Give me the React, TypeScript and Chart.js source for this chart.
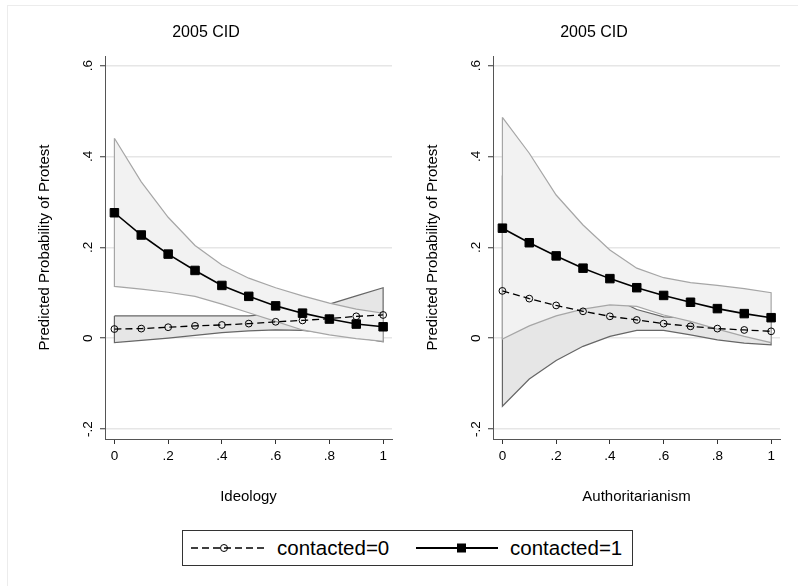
import React, { useEffect, useRef } from "react";
import { Chart, registerables } from "chart.js";

Chart.register(...registerables);

const FONT = "'Liberation Sans', Arial, Helvetica, sans-serif";

// Shared axis definitions
const xValues = [0, 0.1, 0.2, 0.3, 0.4, 0.5, 0.6, 0.7, 0.8, 0.9, 1];
const xTicks = [0, 0.2, 0.4, 0.6, 0.8, 1];
const xTickLabels = ["0", ".2", ".4", ".6", ".8", "1"];
const yTicks = [-0.2, 0, 0.2, 0.4, 0.6];
const yTickLabels = ["-.2", "0", ".2", ".4", ".6"];
const yTitle = "Predicted Probability of Protest";
const panelTitle = "2005 CID";
const legendLabels = ["contacted=0", "contacted=1"];

// Panel 1: Ideology
const ideologyC0 = [0.02, 0.021, 0.024, 0.027, 0.029, 0.032, 0.036, 0.039, 0.043, 0.048, 0.051];
const ideologyC0Upper = [0.049, 0.049, 0.049, 0.049, 0.049, 0.049, 0.054, 0.061, 0.075, 0.093, 0.111];
const ideologyC0Lower = [-0.01, -0.005, 0.0, 0.006, 0.012, 0.016, 0.018, 0.017, 0.011, 0.002, -0.008];
const ideologyC1 = [0.276, 0.227, 0.185, 0.149, 0.116, 0.092, 0.071, 0.055, 0.042, 0.031, 0.025];
const ideologyC1Upper = [0.44, 0.344, 0.266, 0.204, 0.161, 0.132, 0.111, 0.093, 0.077, 0.064, 0.055];
const ideologyC1Lower = [0.114, 0.108, 0.101, 0.092, 0.075, 0.056, 0.037, 0.018, 0.007, -0.001, -0.007];

// Panel 2: Authoritarianism
const authC0 = [0.104, 0.087, 0.072, 0.059, 0.048, 0.04, 0.032, 0.026, 0.021, 0.018, 0.015];
const authC0Upper = [0.358, 0.264, 0.193, 0.136, 0.092, 0.063, 0.047, 0.045, 0.046, 0.047, 0.045];
const authC0Lower = [-0.15, -0.09, -0.049, -0.018, 0.004, 0.017, 0.017, 0.007, -0.004, -0.011, -0.015];
const authC1 = [0.242, 0.21, 0.181, 0.154, 0.131, 0.111, 0.094, 0.079, 0.065, 0.054, 0.045];
const authC1Upper = [0.486, 0.407, 0.315, 0.249, 0.194, 0.154, 0.133, 0.122, 0.116, 0.109, 0.1];
const authC1Lower = [-0.002, 0.027, 0.049, 0.064, 0.073, 0.07, 0.051, 0.037, 0.02, 0.004, -0.01];

const pts = (ys: number[]) => xValues.map((x, i) => ({ x, y: ys[i] }));
const polygon = (up: number[], lo: number[]) => {
  const a = pts(up);
  const b = pts(lo).reverse();
  return [...a, ...b, a[0]];
};
const labelFor = (v: number, ticks: number[], labels: string[]) => {
  const i = ticks.findIndex((t) => Math.abs(t - v) < 1e-6);
  return i >= 0 ? labels[i] : "";
};

const LIGHT_FILL = "#f2f2f2";
const LIGHT_LINE = "#a6a6a6";
const DARK_FILL = "#e6e6e6";
const DARK_LINE = "#666666";

type PanelProps = {
  left: number;
  xTitle: string;
  c0: number[];
  c0Up: number[];
  c0Lo: number[];
  c1: number[];
  c1Up: number[];
  c1Lo: number[];
};

const W = 382;
const H = 515;

function Panel(p: PanelProps) {
  const ref = useRef<HTMLCanvasElement | null>(null);
  useEffect(() => {
    if (!ref.current) return;
    const band = { pointRadius: 0, borderWidth: 0, showLine: true };
    const chart = new Chart(ref.current, {
      type: "line",
      data: {
        datasets: [
          {
            data: pts(p.c1),
            borderColor: "#000",
            borderWidth: 1.6,
            pointStyle: "rect",
            pointRadius: 6,
            pointBackgroundColor: "#000",
            pointBorderColor: "#000",
            pointBorderWidth: 1,
            fill: false,
          },
          {
            data: pts(p.c0),
            borderColor: "#000",
            borderWidth: 1.3,
            borderDash: [7, 4],
            pointStyle: "circle",
            pointRadius: 3.4,
            pointBackgroundColor: "rgba(0,0,0,0)",
            pointBorderColor: "#000",
            pointBorderWidth: 1,
            fill: false,
          },
          { data: polygon(p.c1Up, p.c1Lo), borderColor: LIGHT_LINE, borderWidth: 1.2, pointRadius: 0, fill: false },
          { ...band, data: pts(p.c1Up), backgroundColor: LIGHT_FILL, borderColor: LIGHT_FILL, fill: "+1" },
          { ...band, data: pts(p.c1Lo), borderColor: LIGHT_FILL, fill: false },
          { data: polygon(p.c0Up, p.c0Lo), borderColor: DARK_LINE, borderWidth: 1.2, pointRadius: 0, fill: false },
          { ...band, data: pts(p.c0Up), backgroundColor: DARK_FILL, borderColor: DARK_FILL, fill: "+1" },
          { ...band, data: pts(p.c0Lo), borderColor: DARK_FILL, fill: false },
        ] as any,
      },
      options: {
        animation: false,
        responsive: false,
        maintainAspectRatio: false,
        layout: { padding: { left: 0, right: 10, top: 0, bottom: 0 } },
        plugins: {
          legend: { display: false },
          tooltip: { enabled: false },
          title: {
            display: true,
            text: panelTitle,
            color: "#000",
            font: { family: FONT, size: 16, weight: "normal" },
            padding: { top: 23, bottom: 13.8 },
          },
        },
        scales: {
          x: {
            type: "linear",
            min: -0.035,
            max: 1.033,
            afterBuildTicks: (s: any) => {
              s.ticks = xTicks.map((v) => ({ value: v }));
            },
            afterFit: (s: any) => {
              s.height = H - 439;
            },
            ticks: {
              callback: (v: any) => labelFor(Number(v), xTicks, xTickLabels),
              color: "#000",
              font: { family: FONT, size: 13.5 },
              padding: 4,
              maxRotation: 0,
              minRotation: 0,
              autoSkip: false,
            },
            grid: { drawOnChartArea: false, drawTicks: true, tickLength: 5, tickColor: "#333", tickWidth: 1 },
            border: { color: "#555", width: 1 },
            title: {
              display: true,
              text: p.xTitle,
              color: "#000",
              font: { family: FONT, size: 15 },
              padding: { top: 0, bottom: 9 },
            },
          },
          y: {
            type: "linear",
            min: -0.222,
            max: 0.621,
            afterBuildTicks: (s: any) => {
              s.ticks = yTicks.map((v) => ({ value: v }));
            },
            afterFit: (s: any) => {
              s.width = 85;
            },
            ticks: {
              callback: (v: any) => labelFor(Number(v), yTicks, yTickLabels),
              color: "#000",
              font: { family: FONT, size: 13.5 },
              padding: 4,
              minRotation: 90,
              maxRotation: 90,
              crossAlign: "center",
              autoSkip: false,
            },
            grid: { color: "#e6e6e6", lineWidth: 1.5, tickLength: 5, tickColor: "#333", tickWidth: 1 },
            border: { color: "#555", width: 1 },
            title: {
              display: true,
              text: yTitle,
              color: "#000",
              font: { family: FONT, size: 15 },
              padding: { top: 16, bottom: 0 },
            },
          },
        },
      } as any,
    });
    return () => chart.destroy();
  }, []);
  return (
    <canvas
      ref={ref}
      width={W}
      height={H}
      style={{ position: "absolute", left: p.left, top: 0, width: W, height: H }}
    />
  );
}

function Legend() {
  return (
    <div
      style={{
        position: "absolute",
        left: 182,
        top: 530,
        width: 451,
        height: 36,
        boxSizing: "border-box",
        border: "1px solid #333",
        fontFamily: FONT,
        fontSize: 20.5,
        color: "#000",
      }}
    >
      <svg width={449} height={34} style={{ position: "absolute", left: 0, top: 0 }}>
        <line x1={8} y1={17} x2={85} y2={17} stroke="#000" strokeWidth={1.5} strokeDasharray="7 4" />
        <circle cx={41} cy={17} r={3.5} fill="none" stroke="#000" strokeWidth={1} />
        <line x1={233} y1={17} x2={315} y2={17} stroke="#000" strokeWidth={1.8} />
        <rect x={274} y={12.5} width={9} height={9} fill="#000" />
      </svg>
      <span style={{ position: "absolute", left: 94, top: 5, lineHeight: "24px", whiteSpace: "nowrap" }}>
        {legendLabels[0]}
      </span>
      <span style={{ position: "absolute", left: 327, top: 5, lineHeight: "24px", whiteSpace: "nowrap" }}>
        {legendLabels[1]}
      </span>
    </div>
  );
}

export default function App() {
  return (
    <div
      style={{
        position: "absolute",
        left: 0,
        top: 0,
        width: 798,
        height: 586,
        background: "#fff",
        overflow: "hidden",
      }}
    >
      <div
        style={{
          position: "absolute",
          left: 7,
          top: 5,
          width: 820,
          height: 620,
          borderLeft: "1px solid #ececec",
          borderTop: "1px solid #ececec",
        }}
      />
      <Panel
        left={20}
        xTitle="Ideology"
        c0={ideologyC0}
        c0Up={ideologyC0Upper}
        c0Lo={ideologyC0Lower}
        c1={ideologyC1}
        c1Up={ideologyC1Upper}
        c1Lo={ideologyC1Lower}
      />
      <Panel
        left={408}
        xTitle="Authoritarianism"
        c0={authC0}
        c0Up={authC0Upper}
        c0Lo={authC0Lower}
        c1={authC1}
        c1Up={authC1Upper}
        c1Lo={authC1Lower}
      />
      <Legend />
    </div>
  );
}
